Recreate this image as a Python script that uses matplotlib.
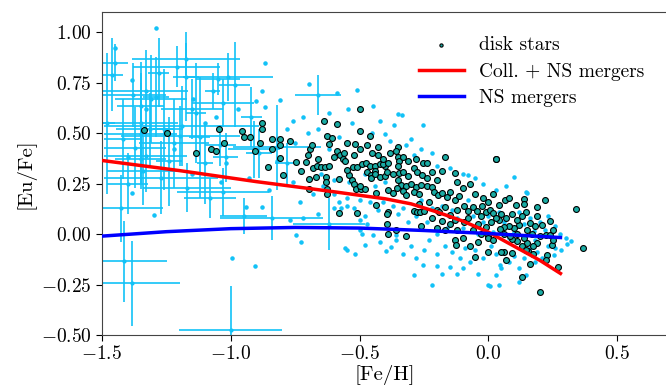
import matplotlib
matplotlib.use('Agg')
import matplotlib.pyplot as plt
import numpy as np

plt.rcParams['font.family'] = 'serif'
plt.rcParams['font.serif'] = ['cmr10', 'DejaVu Serif']
plt.rcParams['mathtext.fontset'] = 'cm'
plt.rcParams['axes.formatter.use_mathtext'] = True
plt.rcParams['axes.unicode_minus'] = True

# model tracks
model_feh = [-1.5, -1.2, -0.9, -0.6, -0.4, -0.3, -0.2, -0.1, 0.0, 0.1, 0.2, 0.28]
coll_ns_eu = [0.365, 0.315, 0.26, 0.21, 0.175, 0.15, 0.11, 0.065, 0.01, -0.06, -0.13, -0.195]
ns_feh = [-1.5, -1.25, -1.0, -0.75, -0.5, -0.25, 0.0, 0.28]
ns_eu = [-0.01, 0.012, 0.027, 0.033, 0.03, 0.018, 0.003, -0.017]

# disk stars
disk_feh = [
    -1.335, -1.246, -1.136, -1.075, -1.056, -1.047, -1.027, -0.957, -0.949, -0.926,
    -0.907, -0.887, -0.879, -0.879, -0.857, -0.838, -0.838, -0.809, -0.809, -0.809,
    -0.798, -0.768, -0.747, -0.728, -0.708, -0.698, -0.698, -0.700, -0.692, -0.686,
    -0.68, -0.665, -0.65, -0.635, -0.62, -0.66, -0.638, -0.628, -0.608, -0.617,
    -0.667, -0.632, -0.63, -0.628, -0.628, -0.589, -0.587, -0.575, -0.565, -0.556,
    -0.579, -0.547, -0.54, -0.53, -0.52, -0.515, -0.495, -0.478, -0.50, -0.518,
    -0.498, -0.498, -0.527, -0.51, -0.492, -0.475, -0.46, -0.44, -0.42, -0.40,
    -0.459, -0.429, -0.47, -0.455, -0.455, -0.44, -0.44, -0.42, -0.40, -0.395,
    -0.437, -0.437, -0.579, -0.509, -0.389, -0.394, -0.394, -0.349, -0.349, -0.347,
    -0.349, -0.407, -0.388, -0.37, -0.345, -0.33, -0.31, -0.167, -0.252, -0.239,
    -0.219, -0.18, -0.128, 0.031, -0.29, -0.275, -0.258, -0.34, -0.32, -0.30,
    -0.28, -0.26, -0.24, -0.22, -0.39, -0.37, -0.355, -0.33, -0.32, -0.29,
    -0.27, -0.29, -0.275, -0.265, -0.25, -0.21, -0.195, -0.18, -0.16, -0.15,
    -0.13, -0.115, -0.20, -0.19, -0.17, -0.15, -0.12, -0.095, -0.08, -0.06,
    -0.045, -0.025, -0.01, 0.005, 0.02, -0.39, -0.36, -0.32, -0.26, -0.22,
    -0.18, -0.15, -0.12, -0.095, -0.08, -0.06, -0.04, -0.03, -0.01, 0.0,
    -0.13, -0.125, -0.05, 0.0, 0.03, 0.066, 0.079, 0.04, 0.109, 0.137,
    0.137, 0.148, 0.189, 0.219, 0.189, 0.239, 0.209, 0.339, 0.368, 0.161,
    0.12, 0.10, 0.08, 0.06, 0.045, 0.222, 0.239, 0.248, 0.19, 0.175,
    0.15, 0.13, 0.11, 0.09, 0.085, 0.155, 0.145, 0.175, 0.228, 0.222,
    0.09, 0.07, 0.06, 0.05, 0.161, 0.27, 0.131, 0.2, 0.0, 0.02,
    -0.05, -0.02, 0.0, 0.02, 0.05, 0.07, 0.09, 0.11, 0.13, 0.15,
    -0.1, -0.07, -0.2, -0.24, -0.12, -0.35, -0.55, -0.6, -0.56, -0.52,
    -0.5, -0.47, -0.45, -0.43, -0.41, -0.38, -0.36, -0.33, -0.31, -0.28,
    0.04, 0.03, -0.03, 0.01, 0.06, 0.11, 0.14, 0.17, 0.2, 0.25,
    -0.07, -0.04, -0.1, -0.17, -0.2, -0.27, -0.23, -0.13, 0.18, 0.25,
]
disk_eu = [
    0.516, 0.50, 0.40, 0.424, 0.413, 0.523, 0.454, 0.512, 0.482, 0.482,
    0.413, 0.452, 0.553, 0.523, 0.334, 0.472, 0.424, 0.472, 0.443, 0.375,
    0.294, 0.462, 0.355, 0.314, 0.355, 0.275, 0.225, 0.393, 0.42, 0.443,
    0.33, 0.338, 0.335, 0.335, 0.34, 0.372, 0.561, 0.487, 0.474, 0.446,
    0.281, 0.285, 0.26, 0.224, 0.197, 0.545, 0.413, 0.393, 0.37, 0.36,
    0.273, 0.454, 0.294, 0.27, 0.25, 0.225, 0.225, 0.225, 0.24, 0.446,
    0.622, 0.511, 0.333, 0.335, 0.345, 0.35, 0.34, 0.34, 0.345, 0.34,
    0.487, 0.434, 0.31, 0.295, 0.28, 0.315, 0.30, 0.285, 0.29, 0.31,
    0.202, 0.145, 0.104, 0.104, 0.109, 0.10, 0.05, 0.433, 0.383, 0.36,
    0.339, 0.347, 0.352, 0.30, 0.305, 0.31, 0.29, 0.383, 0.352, 0.352,
    0.306, 0.311, 0.301, 0.372, 0.33, 0.31, 0.295, 0.245, 0.24, 0.25,
    0.235, 0.245, 0.24, 0.235, 0.22, 0.205, 0.23, 0.215, 0.195, 0.21,
    0.20, 0.115, 0.108, 0.108, 0.115, 0.21, 0.195, 0.205, 0.185, 0.21,
    0.17, 0.19, 0.12, 0.11, 0.135, 0.095, 0.12, 0.14, 0.115, 0.135,
    0.115, 0.14, 0.11, 0.12, 0.105, 0.0, 0.02, -0.01, 0.04, 0.08,
    0.065, 0.05, 0.02, 0.06, 0.08, 0.02, 0.05, 0.0, 0.035, -0.01,
    -0.03, -0.055, -0.113, -0.089, 0.372, 0.17, 0.18, 0.142, 0.142, 0.175,
    0.15, 0.112, 0.133, 0.171, 0.092, 0.063, 0.043, 0.122, -0.067, 0.054,
    0.045, 0.03, 0.04, 0.035, 0.025, -0.006, -0.006, -0.056, -0.045, -0.06,
    -0.045, -0.06, -0.035, -0.025, -0.01, -0.085, -0.08, -0.1, -0.105, -0.13,
    -0.095, -0.13, -0.09, -0.09, -0.146, -0.163, -0.212, -0.286, -0.02, -0.03,
    0.2, 0.18, 0.16, 0.2, 0.1, 0.08, 0.1, 0.07, 0.09, 0.02,
    0.23, 0.25, 0.27, 0.28, 0.26, 0.27, 0.32, 0.38, 0.40, 0.39,
    0.42, 0.44, 0.40, 0.39, 0.37, 0.40, 0.41, 0.38, 0.36, 0.37,
    0.07, 0.08, 0.09, 0.06, 0.0, 0.0, -0.02, 0.0, -0.01, 0.02,
    -0.06, -0.04, -0.02, 0.02, 0.03, 0.15, 0.16, 0.07, 0.04, -0.03,
]

# other stars (no error bars drawn)
other_feh = [
    -1.29, -0.868, -0.877, -0.511, -0.589, -0.695, -1.384, -1.147, -0.90, -0.809,
    -0.868, -0.62, -0.544, -0.446, -1.056, -0.758, -0.349, -0.336, -0.368, -0.252,
    -0.401, -0.319, -0.29, -0.08, 0.099, 0.147, 0.319, 0.284, 0.306, 0.15,
    -0.995, -0.907, -1.296, -1.384, -0.939, -0.877, -1.036, -0.747, -0.728, -0.556,
    -0.547, -0.518, -0.479, -0.446, -0.42, -0.398, -0.388, -0.377, -0.358, -0.358,
    -0.77, -0.72, -0.66, -0.60, -0.57, -0.55, -0.52, -0.50, -0.48, -0.47,
    -0.498, -0.49, -0.252, -0.29, -0.2, -0.15, -0.1, -0.18, -0.12, -0.04,
    -0.22, 0.0, 0.005, 0.118, 0.183, 0.047, 0.031, 0.04, 0.148, 0.26,
    0.255, 0.176, -0.33, -0.3, -0.28, -0.25, -0.23, -0.2, -0.17, -0.14,
    -0.11, -0.09, -0.07, -0.05, -0.02, 0.01, 0.03, 0.05, 0.08, 0.1,
    0.12, 0.14, 0.16, 0.19, 0.21, 0.23, 0.25, 0.28, 0.3, 0.22,
    -0.6, -0.58, -0.55, -0.5, -0.46, -0.43, -0.41, -0.37, -0.35, -0.33,
    -0.31, -0.28, -0.26, -0.24, -0.22, -0.2, -0.18, -0.16, -0.14, -0.12,
    -0.1, -0.08, -0.06, -0.04, -0.02, 0.0, 0.02, 0.04, 0.06, 0.08,
    0.1, 0.12, 0.14, 0.16, 0.18, 0.2, 0.23, 0.26, -0.65, -0.62,
    -0.7, -0.75, -0.78, -0.72, -0.66, -0.58, -0.53, -0.45, -0.42, -0.38,
    -0.3, -0.26, -0.22, -0.2, -0.15, -0.1, -0.05, -0.02, 0.03, 0.07,
    -1.45, -1.40, -1.33, -1.22, -1.15, -1.10, -1.02, -0.97, -0.93, -0.85,
    -0.82, -0.76, -0.73, -0.68, -0.64, -0.6, -0.54, -0.48, -0.44, -0.4,
]
other_eu = [
    1.02, 0.849, 0.709, 0.712, 0.70, 0.742, 0.762, 0.671, 0.66, 0.663,
    0.63, 0.602, 0.622, 0.635, 0.58, 0.561, 0.597, 0.59, 0.541, 0.541,
    0.495, 0.443, 0.393, 0.294, 0.285, 0.207, -0.032, -0.08, -0.048, 0.204,
    -0.117, -0.156, 0.096, 0.203, 0.133, 0.133, 0.257, -0.006, -0.04, -0.067,
    -0.077, -0.097, -0.056, -0.006, -0.04, -0.085, -0.006, -0.064, -0.006, -0.028,
    0.07, 0.08, 0.10, 0.13, 0.13, 0.14, 0.13, 0.07, 0.09, 0.05,
    0.018, 0.002, -0.154, -0.204, -0.16, -0.165, -0.17, -0.2, -0.2, -0.2,
    -0.25, -0.25, -0.255, -0.237, -0.138, -0.154, -0.204, -0.253, -0.204, -0.07,
    -0.105, 0.013, -0.1, -0.06, -0.12, -0.08, -0.03, -0.1, -0.06, -0.09,
    -0.12, -0.07, -0.14, -0.08, -0.12, -0.06, -0.1, -0.17, -0.14, -0.11,
    -0.17, -0.12, -0.07, -0.09, -0.12, -0.06, -0.02, 0.0, -0.02, 0.02,
    0.2, 0.16, 0.18, 0.17, 0.16, 0.12, 0.16, 0.14, 0.1, 0.13,
    0.06, 0.09, 0.17, 0.06, 0.13, 0.0, 0.14, 0.03, 0.12, 0.08,
    0.03, 0.17, 0.09, 0.0, 0.06, 0.09, 0.01, 0.11, 0.06, -0.02,
    0.01, 0.11, 0.05, 0.08, -0.03, 0.06, 0.09, 0.04, 0.3, 0.42,
    0.5, 0.45, 0.52, 0.58, 0.52, 0.48, 0.55, 0.5, 0.56, 0.46,
    0.47, 0.42, 0.4, 0.34, 0.33, 0.3, 0.28, 0.25, 0.22, 0.24,
    0.92, 0.38, 0.62, 0.42, 0.30, 0.55, 0.35, 0.62, 0.28, 0.22,
    0.36, 0.26, 0.16, 0.2, 0.24, 0.27, 0.26, 0.3, 0.24, 0.26,
]

# halo stars with uncertainties
err_feh = [-1.46, -1.45, -1.175, -1.21, -1.01, -1.05, -1.175, -0.985, -1.33, -1.38,
           -1.31, -1.03, -1.35, -1.29, -1.28, -1.35, -1.19, -1.315, -1.35, -1.195,
           -1.42, -1.22, -0.82, -1.37, -1.33, -1.35, -1.34, -1.27, -1.17, -1.03,
           -1.08, -1.424, -0.95, -0.84, -0.66, -0.62, -1.416, -1.385, -1.0, -1.04,
           -1.02, -0.91, -0.89, -1.12, -1.26, -1.48, -1.07, -1.135,
           -1.10, -1.15, -0.92, -1.40, -0.78, -1.24]
err_eu = [0.79, 0.85, 0.867, 0.83, 0.78, 0.77, 0.78, 0.74, 0.71, 0.69,
          0.67, 0.65, 0.635, 0.68, 0.80, 0.55, 0.536, 0.52, 0.497, 0.487,
          0.472, 0.45, 0.43, 0.428, 0.388, 0.373, 0.314, 0.28, 0.23, 0.21,
          0.18, 0.127, 0.09, 0.08, 0.69, 0.05, -0.135, -0.243, -0.475, 0.44,
          0.38, 0.42, 0.40, 0.48, 0.52, 0.55, 0.71, 0.60,
          0.35, 0.62, 0.58, 0.25, 0.35, 0.36]
err_xe = [0.04, 0.05, 0.21, 0.17, 0.175, 0.085, 0.05, 0.06, 0.165, 0.13,
          0.14, 0.12, 0.09, 0.05, 0.04, 0.145, 0.30, 0.13, 0.14, 0.23,
          0.07, 0.135, 0.17, 0.12, 0.16, 0.1, 0.14, 0.22, 0.17, 0.18,
          0.1, 0.16, 0.09, 0.2, 0.09, 0.14, 0.17, 0.19, 0.2, 0.06,
          0.05, 0.1, 0.05, 0.04, 0.04, 0.03, 0.03, 0.04,
          0.03, 0.12, 0.04, 0.08, 0.05, 0.05]
err_ye = [0.18, 0.09, 0.08, 0.1, 0.12, 0.08, 0.22, 0.21, 0.2, 0.16,
          0.22, 0.12, 0.22, 0.2, 0.17, 0.25, 0.2, 0.18, 0.25, 0.15,
          0.2, 0.22, 0.21, 0.2, 0.18, 0.15, 0.17, 0.18, 0.12, 0.12,
          0.1, 0.165, 0.09, 0.11, 0.1, 0.13, 0.2, 0.21, 0.22, 0.1,
          0.12, 0.14, 0.12, 0.3, 0.3, 0.35, 0.09, 0.25,
          0.2, 0.15, 0.15, 0.15, 0.1, 0.22]

fig = plt.figure(figsize=(6.66, 3.92), dpi=100)
ax = fig.add_axes([0.153, 0.1454, 0.851, 0.8236])

err_color = '#12c2f7'
ax.errorbar(err_feh, err_eu, xerr=err_xe, yerr=err_ye, fmt='o', ms=2,
            color=err_color, ecolor=err_color, elinewidth=1.2, capsize=0, zorder=1)
ax.scatter(other_feh, other_eu, s=5, color=err_color, zorder=2)
ax.scatter(disk_feh, disk_eu, s=18, facecolor='#1aaca4', edgecolor='black',
           linewidth=0.8, zorder=3, label='disk stars')
ax.plot(model_feh, coll_ns_eu, color='red', lw=2.5, zorder=4, label='Coll. + NS mergers')
ax.plot(ns_feh, ns_eu, color='blue', lw=2.5, zorder=4, label='NS mergers')

ax.set_xlim(-1.5, 0.7)
ax.set_ylim(-0.5, 1.1)
ax.set_xticks([-1.5, -1.0, -0.5, 0.0, 0.5])
ax.set_yticks([-0.5, -0.25, 0.0, 0.25, 0.5, 0.75, 1.0])
ax.xaxis.set_major_formatter(matplotlib.ticker.FormatStrFormatter('$%.1f$'))
ax.yaxis.set_major_formatter(matplotlib.ticker.FormatStrFormatter('$%.2f$'))
ax.tick_params(labelsize=14, length=4, direction='out')
for s in ax.spines.values():
    s.set_color('#444444')
ax.set_xlabel('[Fe/H]', fontsize=15, labelpad=1)
ax.set_ylabel('[Eu/Fe]', fontsize=15)
ax.legend(loc='upper right', frameon=False, fontsize=14, markerscale=0.55,
          handlelength=2.3, labelspacing=0.42, borderaxespad=0.85)

fig.savefig('out.png', dpi=100)
